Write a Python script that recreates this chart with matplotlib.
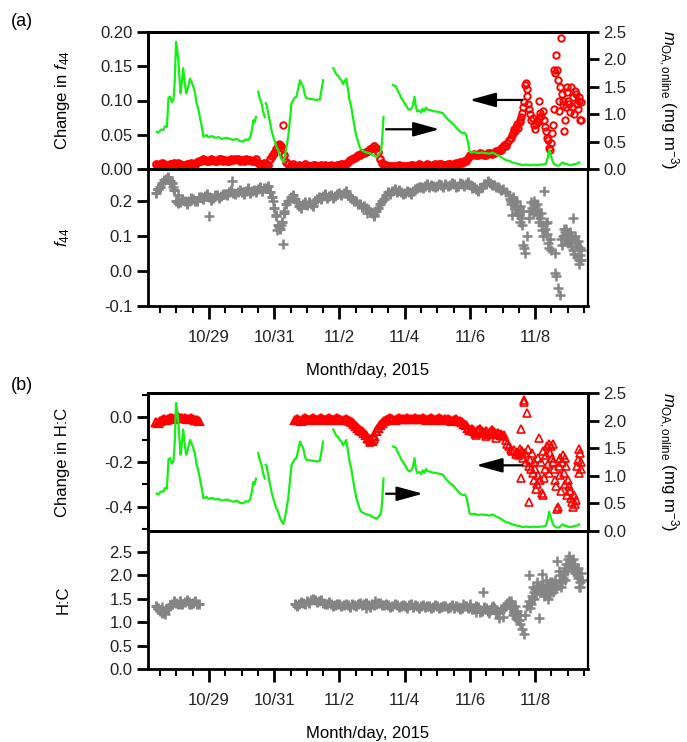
import numpy as np
import matplotlib
matplotlib.use('Agg')
import matplotlib.pyplot as plt
from matplotlib.ticker import FixedLocator, MultipleLocator, FormatStrFormatter

plt.rcParams['font.family'] = ['Liberation Sans', 'DejaVu Sans']
plt.rcParams['mathtext.fontset'] = 'custom'
plt.rcParams['mathtext.rm'] = 'Liberation Sans'
plt.rcParams['mathtext.it'] = 'Liberation Sans:italic'
plt.rcParams['mathtext.bf'] = 'Liberation Sans:bold'
plt.rcParams['axes.unicode_minus'] = False

# ---------------- DATA (time = day of October 2015, Nov 1 = 32) ----------------
tick_days = [29, 31, 33, 35, 37, 39]
tick_labels = ['10/29', '10/31', '11/2', '11/4', '11/6', '11/8']

# OA mass loading online (green line, right axes), NaN = gap
moa_t = [27.40, 27.45, 27.50, 27.55, 27.60, 27.65, 27.71, 27.76, 27.81, 27.86, 27.91, 27.95, 27.99, 28.02,
         28.06, 28.10, 28.13, 28.17, 28.21, 28.25, 28.30, 28.34, 28.38, 28.42, 28.47, 28.52, 28.57, 28.62,
         28.67, 28.72, 28.77, 28.83, 28.88, 28.93, 28.98, 29.03, 29.10, 29.20, 29.30, 29.40, 29.54, 29.65,
         29.75, 29.85, 29.95, 30.05, 30.12, 30.20, 30.26, 30.31, 30.36, 30.40, 30.44, 30.47,
         30.51, 30.55, 30.61, 30.66, 30.71, 30.73,
         30.74, 30.77, 30.82, 30.87, 30.92, 30.97, 31.02, 31.07, 31.12, 31.17, 31.22, 31.28, 31.33, 31.38,
         31.43, 31.48, 31.53, 31.58, 31.63, 31.68, 31.73, 31.79, 31.84, 31.89, 31.94, 31.99, 32.10, 32.20,
         32.30, 32.40, 32.45, 32.50, 32.65,
         32.81, 32.86, 32.91, 32.96, 33.01, 33.06, 33.11, 33.16, 33.21, 33.26, 33.31, 33.36, 33.41, 33.46,
         33.52, 33.57, 33.62, 33.67, 33.75, 33.83, 33.92, 34.00, 34.07, 34.13, 34.20, 34.25, 34.28, 34.31,
         34.35, 34.50,
         34.64, 34.69, 34.74, 34.79, 34.84, 34.89, 34.94, 35.00, 35.05, 35.10, 35.15, 35.20, 35.25, 35.30,
         35.34, 35.38, 35.45, 35.50, 35.55, 35.60, 35.65, 35.70, 35.76, 35.85, 35.95, 36.05, 36.17, 36.25,
         36.33, 36.40, 36.48, 36.55, 36.62, 36.70, 36.78, 36.84, 36.89, 36.95, 36.99, 37.05, 37.15, 37.25,
         37.35, 37.50, 37.60, 37.70, 37.81, 37.90, 38.00, 38.11, 38.20, 38.30, 38.42, 38.52, 38.62, 38.72,
         38.83, 38.95, 39.05, 39.15, 39.25, 39.33, 39.38, 39.43, 39.48, 39.53, 39.58, 39.64, 39.70, 39.75,
         39.80, 39.85, 39.90, 39.94, 40.00, 40.10, 40.20, 40.30, 40.35]
moa_v = [0.68, 0.66, 0.70, 0.72, 0.71, 0.78, 0.77, 1.30, 1.32, 1.22, 1.26, 1.60, 2.32, 2.20,
         1.99, 1.62, 1.38, 1.60, 1.84, 1.60, 1.38, 1.45, 1.55, 1.65, 1.58, 1.50, 1.40, 1.20,
         1.10, 0.95, 0.80, 0.59, 0.60, 0.62, 0.58, 0.59, 0.60, 0.57, 0.58, 0.55, 0.57, 0.55,
         0.53, 0.55, 0.51, 0.50, 0.54, 0.53, 0.57, 0.70, 0.89, 0.85, 0.95, np.nan,
         1.41, 1.30, 1.20, 1.05, 0.95, np.nan,
         1.20, 1.17, 1.00, 0.85, 0.70, 0.59, 0.50, 0.40, 0.35, 0.25, 0.18, 0.13, 0.25, 0.42,
         0.59, 0.90, 1.20, 1.25, 1.30, 1.32, 1.45, 1.62, 1.55, 1.50, 1.35, 1.29, 1.28, 1.27,
         1.26, 1.27, 1.45, 1.62, np.nan,
         1.84, 1.78, 1.72, 1.70, 1.65, 1.62, 1.55, 1.60, 1.65, 1.45, 1.25, 1.14, 0.95, 0.78,
         0.59, 0.50, 0.40, 0.35, 0.32, 0.30, 0.29, 0.26, 0.24, 0.22, 0.26, 0.30, 0.35, 0.55,
         0.95, np.nan,
         1.53, 1.52, 1.50, 1.42, 1.37, 1.30, 1.26, 1.20, 1.15, 1.10, 1.08, 1.10, 1.15, 1.32,
         1.15, 1.05, 1.07, 1.03, 1.10, 1.05, 1.12, 1.08, 1.08, 1.06, 1.05, 1.04, 1.02, 0.95,
         0.90, 0.86, 0.83, 0.78, 0.73, 0.68, 0.65, 0.66, 0.62, 0.45, 0.32, 0.30, 0.31, 0.29,
         0.30, 0.29, 0.28, 0.30, 0.26, 0.24, 0.20, 0.16, 0.15, 0.12, 0.10, 0.09, 0.07, 0.08,
         0.07, 0.08, 0.07, 0.08, 0.08, 0.10, 0.20, 0.35, 0.25, 0.15, 0.09, 0.07, 0.06, 0.07,
         0.10, 0.12, 0.09, 0.10, 0.08, 0.07, 0.09, 0.10, 0.12]

# 3-hourly sample times of the continuous records, plus the in-between samples
grid_t = np.arange(27.375, 37.876, 0.125)          # 85 samples
grid_tm = grid_t + 0.0625
hc1_t = np.arange(27.375, 28.626, 0.125)           # 11 samples
hc1_tm = hc1_t + 0.0625
hc2_t = np.arange(31.625, 37.876, 0.125)           # 51 samples
hc2_tm = hc2_t + 0.0625

# Change in f44 (red circles), regular part
df44_v = [0.008, 0.007, 0.008, 0.006, 0.007,
          0.007, 0.008, 0.006, 0.007, 0.008, 0.010, 0.012, 0.013,
          0.012, 0.013, 0.012, 0.014, 0.013, 0.012, 0.013, 0.014,
          0.013, 0.014, 0.013, 0.012, 0.009, 0.007, 0.008, 0.015,
          0.024, 0.033, 0.030, 0.010, 0.005, 0.005, 0.006, 0.005,
          0.005, 0.004, 0.006, 0.005, 0.004, 0.005, 0.006, 0.005,
          0.006, 0.007, 0.010, 0.015, 0.018, 0.021, 0.024, 0.026,
          0.031, 0.030, 0.015, 0.005, 0.004, 0.005, 0.005, 0.004,
          0.005, 0.005, 0.006, 0.005, 0.006, 0.005, 0.006, 0.006,
          0.006, 0.007, 0.006, 0.007, 0.008, 0.008, 0.009, 0.011,
          0.020, 0.022, 0.021, 0.022, 0.021, 0.023, 0.024, 0.027]
df44_vm = [0.006, 0.009, 0.006, 0.008, 0.009,
           0.009, 0.006, 0.008, 0.009, 0.006, 0.012, 0.014, 0.011,
           0.014, 0.011, 0.015, 0.012, 0.011, 0.014, 0.015, 0.012,
           0.012, 0.013, 0.011, 0.014, 0.008, 0.009, 0.006, 0.019,
           0.029, 0.035, 0.020, 0.007, 0.007, 0.004, 0.005, 0.007,
           0.004, 0.006, 0.004, 0.006, 0.006, 0.004, 0.005, 0.006,
           0.008, 0.008, 0.013, 0.016, 0.020, 0.023, 0.025, 0.029,
           0.033, 0.025, 0.009, 0.006, 0.005, 0.004, 0.006, 0.005,
           0.004, 0.006, 0.005, 0.007, 0.005, 0.007, 0.005, 0.007,
           0.007, 0.005, 0.008, 0.006, 0.009, 0.010, 0.012, 0.016,
           0.021, 0.020, 0.023, 0.020, 0.024, 0.022, 0.026, 0.028]
# Change in f44, scattered part
df44s_t = [31.15, 31.20, 31.28, 37.95, 38.00, 38.05, 38.10, 38.15, 38.20, 38.25, 38.28, 38.31, 38.35,
           38.38, 38.41, 38.45, 38.48, 38.52, 38.55, 38.57, 38.60, 38.63, 38.66, 38.70, 38.72, 38.74,
           38.76, 38.79, 38.82, 38.85, 38.88, 38.92, 38.95, 38.98, 39.02, 39.05, 39.08, 39.11, 39.13,
           39.16, 39.19, 39.23, 39.26, 39.30, 39.33, 39.36, 39.38, 39.41, 39.45, 39.49, 39.52, 39.54,
           39.57, 39.59, 39.61, 39.64, 39.67, 39.70, 39.72, 39.74, 39.77, 39.79, 39.81, 39.84, 39.86,
           39.89, 39.91, 39.94, 39.97, 39.99, 40.02, 40.05, 40.08, 40.11, 40.14, 40.17, 40.20, 40.23,
           40.25, 40.28, 40.30, 40.33, 40.35, 40.38, 40.40, 40.42]
df44s_v = [0.036, 0.034, 0.064, 0.030, 0.032, 0.035, 0.033, 0.038, 0.042, 0.045, 0.050, 0.052, 0.058,
           0.055, 0.061, 0.066, 0.060, 0.072, 0.068, 0.076, 0.082, 0.090, 0.098, 0.122, 0.125, 0.117,
           0.107, 0.095, 0.088, 0.080, 0.072, 0.074, 0.064, 0.058, 0.066, 0.070, 0.069, 0.075, 0.100,
           0.082, 0.078, 0.084, 0.072, 0.061, 0.055, 0.045, 0.042, 0.030, 0.028, 0.038, 0.052, 0.064,
           0.088, 0.145, 0.140, 0.166, 0.145, 0.130, 0.100, 0.085, 0.120, 0.191, 0.110, 0.100, 0.094,
           0.055, 0.072, 0.090, 0.112, 0.120, 0.100, 0.095, 0.083, 0.120, 0.090, 0.105, 0.080, 0.114,
           0.110, 0.095, 0.088, 0.100, 0.105, 0.072, 0.071, 0.098]

# f44 (grey crosses), regular part
f44_v = [0.222, 0.240, 0.258, 0.268, 0.250,
         0.200, 0.195, 0.198, 0.200, 0.205, 0.200, 0.210, 0.212,
         0.210, 0.208, 0.215, 0.212, 0.220, 0.225, 0.222, 0.225,
         0.225, 0.228, 0.222, 0.230, 0.232, 0.228, 0.235, 0.225,
         0.180, 0.130, 0.140, 0.190, 0.210, 0.205, 0.185, 0.190,
         0.188, 0.190, 0.200, 0.210, 0.212, 0.208, 0.215, 0.212,
         0.222, 0.222, 0.215, 0.205, 0.198, 0.190, 0.184, 0.175,
         0.165, 0.170, 0.190, 0.205, 0.225, 0.228, 0.224, 0.225,
         0.222, 0.225, 0.228, 0.235, 0.240, 0.242, 0.240, 0.243,
         0.242, 0.245, 0.248, 0.245, 0.247, 0.243, 0.248, 0.246,
         0.245, 0.238, 0.228, 0.240, 0.248, 0.250, 0.245, 0.240]
f44_vm = [0.232, 0.250, 0.262, 0.255, 0.230,
          0.192, 0.205, 0.190, 0.208, 0.198, 0.210, 0.205, 0.218,
          0.202, 0.215, 0.208, 0.220, 0.215, 0.230, 0.218, 0.230,
          0.220, 0.235, 0.228, 0.225, 0.238, 0.235, 0.242, 0.210,
          0.160, 0.118, 0.165, 0.200, 0.215, 0.195, 0.180, 0.195,
          0.195, 0.185, 0.205, 0.205, 0.218, 0.214, 0.208, 0.220,
          0.215, 0.228, 0.210, 0.200, 0.190, 0.182, 0.178, 0.168,
          0.160, 0.180, 0.198, 0.215, 0.220, 0.232, 0.230, 0.220,
          0.228, 0.220, 0.232, 0.240, 0.235, 0.248, 0.245, 0.238,
          0.248, 0.240, 0.242, 0.250, 0.240, 0.250, 0.242, 0.252,
          0.235, 0.232, 0.235, 0.246, 0.255, 0.244, 0.238, 0.230]
# f44, scattered part
f44s_t = [27.45, 27.90, 28.05, 29.00, 29.70, 30.95, 31.05, 31.10, 31.15, 31.20, 31.27, 31.30, 33.85, 34.05,
          37.90, 38.00, 38.10, 38.20, 38.25, 38.30, 38.32, 38.35, 38.40, 38.45, 38.50, 38.55, 38.60, 38.63,
          38.67, 38.70, 38.75, 38.80, 38.85, 38.90, 38.95, 39.00, 39.05, 39.10, 39.15, 39.20, 39.25, 39.28,
          39.30, 39.35, 39.40, 39.43, 39.50, 39.60, 39.62, 39.65, 39.69, 39.75, 39.80, 39.85, 39.90, 39.95,
          40.00, 40.05, 40.10, 40.15, 40.20, 40.25, 40.30, 40.33, 40.35, 40.38, 40.42,
          38.22, 38.27, 38.33, 38.37, 38.42, 38.47, 38.52, 38.57, 38.62, 38.88, 38.92, 38.97, 39.02, 39.07,
          39.12, 39.17, 39.22, 39.32, 39.37, 39.45, 39.82, 39.87, 39.92, 39.97, 40.02, 40.07, 40.12, 40.17,
          40.22, 40.27, 40.32, 40.37, 40.40]
f44s_v = [0.232, 0.240, 0.215, 0.157, 0.255, 0.200, 0.155, 0.115, 0.125, 0.130, 0.077, 0.170, 0.165, 0.155,
          0.235, 0.232, 0.225, 0.215, 0.200, 0.158, 0.205, 0.195, 0.185, 0.180, 0.160, 0.140, 0.130, 0.075,
          0.065, 0.050, 0.100, 0.150, 0.170, 0.180, 0.190, 0.185, 0.175, 0.160, 0.150, 0.130, 0.100, 0.227,
          0.120, 0.140, 0.080, 0.065, 0.060, 0.050, -0.005, -0.015, -0.050, -0.070, 0.090, 0.100, 0.110, 0.118,
          0.100, 0.085, 0.070, 0.150, 0.048, 0.080, 0.067, 0.030, 0.020, 0.045, 0.060,
          0.205, 0.190, 0.210, 0.175, 0.200, 0.165, 0.185, 0.150, 0.170, 0.195, 0.165, 0.200, 0.170, 0.190,
          0.140, 0.165, 0.115, 0.135, 0.105, 0.090, 0.075, 0.120, 0.090, 0.105, 0.080, 0.110, 0.095, 0.060,
          0.100, 0.040, 0.085, 0.065, 0.030]

# Change in H:C (red triangles), regular parts
dhc1_v = [-0.020, -0.015, -0.008, -0.005, -0.003, -0.002, -0.004, -0.003, -0.005, -0.006, -0.010]
dhc1_vm = [-0.025, -0.010, -0.012, -0.001, -0.006, 0.001, -0.001, -0.007, -0.002, -0.012, -0.015]
dhc2_v = [-0.012, -0.010, -0.008,
          -0.008, -0.007, -0.008, -0.006, -0.007, -0.008, -0.006, -0.007,
          -0.008, -0.010, -0.012, -0.020, -0.040, -0.055, -0.070, -0.090,
          -0.105, -0.060, -0.035, -0.015, -0.008, -0.005, -0.006, -0.005,
          -0.006, -0.005, -0.006, -0.005, -0.006, -0.007, -0.006, -0.007,
          -0.007, -0.008, -0.008, -0.010, -0.012, -0.015, -0.020, -0.035,
          -0.055, -0.060, -0.058, -0.062, -0.060, -0.065, -0.063, -0.070]
dhc2_vm = [-0.006, -0.014, -0.004,
           -0.012, -0.003, -0.011, -0.004, -0.010, -0.004, -0.011, -0.003,
           -0.012, -0.006, -0.016, -0.030, -0.048, -0.062, -0.080, -0.098,
           -0.085, -0.045, -0.025, -0.010, -0.004, -0.010, -0.003, -0.009,
           -0.003, -0.009, -0.003, -0.009, -0.004, -0.010, -0.003, -0.011,
           -0.004, -0.011, -0.005, -0.014, -0.008, -0.018, -0.028, -0.045,
           -0.050, -0.068, -0.052, -0.070, -0.075, -0.058, -0.072, -0.080]
# Change in H:C, scattered part
dhcs_t = [33.95, 34.05, 37.20, 37.50, 37.80, 37.95, 38.00, 38.05, 38.10, 38.15, 38.20, 38.25, 38.30, 38.35,
          38.40, 38.45, 38.50, 38.52, 38.55, 38.57, 38.58, 38.60, 38.62, 38.65, 38.67, 38.70, 38.72, 38.75,
          38.77, 38.80, 38.82, 38.84, 38.87, 38.90, 38.92, 38.95, 38.97, 39.00, 39.03, 39.05, 39.08, 39.10,
          39.13, 39.15, 39.18, 39.20, 39.23, 39.25, 39.28, 39.30, 39.33, 39.36, 39.38, 39.41, 39.43, 39.46,
          39.49, 39.51, 39.54, 39.56, 39.59, 39.62, 39.65, 39.67, 39.69, 39.72, 39.75, 39.77, 39.80, 39.82,
          39.85, 39.87, 39.90, 39.92, 39.95, 39.98, 40.00, 40.03, 40.06, 40.09, 40.12, 40.15, 40.18, 40.21,
          40.24, 40.27, 40.30, 40.33, 40.35, 40.38, 40.40, 40.42]
dhcs_v = [-0.110, -0.095, -0.080, -0.085, -0.090, -0.075, -0.085, -0.080, -0.100, -0.120, -0.130, -0.140,
          -0.150, -0.145, -0.165, -0.155, -0.170, -0.140, -0.160, -0.270, -0.050, -0.150, -0.180, 0.080,
          0.070, -0.160, -0.200, 0.020, -0.140, -0.220, -0.380, -0.190, -0.230, -0.160, -0.250, -0.200,
          -0.280, -0.230, -0.320, -0.300, -0.180, -0.260, -0.090, -0.280, -0.200, -0.340, -0.350, -0.150,
          -0.270, -0.230, -0.170, -0.130, -0.210, -0.120, -0.250, -0.160, -0.130, -0.180, -0.120, -0.200,
          -0.230, -0.280, -0.310, -0.410, -0.400, -0.220, -0.180, -0.260, -0.330, -0.200, -0.170, -0.250,
          -0.180, -0.300, -0.220, -0.350, -0.280, -0.310, -0.330, -0.360, -0.380, -0.400, -0.350, -0.390,
          -0.370, -0.220, -0.190, -0.250, -0.140, -0.160, -0.230, -0.200]

# H:C (grey crosses), regular parts
hc1_v = [1.35, 1.25, 1.22, 1.30, 1.40, 1.42, 1.45, 1.43, 1.44, 1.42, 1.40]
hc1_vm = [1.30, 1.20, 1.28, 1.36, 1.45, 1.38, 1.40, 1.47, 1.40, 1.45, 1.38]
hc2_v = [1.38, 1.40, 1.42,
         1.45, 1.47, 1.48, 1.45, 1.42, 1.40, 1.38, 1.37,
         1.38, 1.36, 1.37, 1.40, 1.35, 1.42, 1.38, 1.36,
         1.40, 1.38, 1.42, 1.36, 1.37, 1.35, 1.36, 1.34,
         1.35, 1.36, 1.33, 1.35, 1.34, 1.32, 1.34, 1.33,
         1.35, 1.32, 1.34, 1.33, 1.31, 1.33, 1.30, 1.34,
         1.32, 1.28, 1.33, 1.25, 1.30, 1.27, 1.31, 1.22]
hc2_vm = [1.34, 1.44, 1.40,
          1.42, 1.50, 1.44, 1.48, 1.38, 1.43, 1.35, 1.40,
          1.34, 1.40, 1.33, 1.36, 1.40, 1.36, 1.42, 1.33,
          1.36, 1.42, 1.37, 1.40, 1.33, 1.38, 1.32, 1.37,
          1.31, 1.38, 1.36, 1.31, 1.37, 1.35, 1.30, 1.36,
          1.31, 1.35, 1.30, 1.36, 1.34, 1.29, 1.35, 1.30,
          1.28, 1.34, 1.22, 1.32, 1.24, 1.33, 1.20, 1.28]
# H:C, scattered part
hcs_t = [27.45, 27.55, 27.65, 27.80, 28.10, 28.40, 33.80, 34.10, 36.80, 37.00, 37.20, 37.40, 37.60, 37.70,
         37.90, 38.00, 38.05, 38.10, 38.15, 38.20, 38.25, 38.30, 38.35, 38.40, 38.45, 38.50, 38.55, 38.60,
         38.65, 38.70, 38.75, 38.80, 38.82, 38.85, 38.90, 38.95, 39.00, 39.05, 39.10, 39.12, 39.15, 39.20,
         39.25, 39.30, 39.35, 39.40, 39.45, 39.50, 39.55, 39.60, 39.65, 39.68, 39.72, 39.75, 39.80, 39.85,
         39.90, 39.95, 40.00, 40.05, 40.10, 40.15, 40.20, 40.25, 40.30, 40.33, 40.36, 40.40, 40.43,
         38.22, 38.27, 38.32, 38.37, 38.42, 38.47, 38.52, 38.88, 38.92, 38.97, 39.02, 39.07, 39.17, 39.22,
         39.27, 39.32, 39.37, 39.42, 39.47, 39.52, 39.57, 39.62, 39.77, 39.82, 39.87, 39.92, 39.97, 40.02,
         40.07, 40.12, 40.17, 40.22, 40.27, 40.32, 40.38]
hcs_v = [1.28, 1.32, 1.18, 1.35, 1.38, 1.40, 1.30, 1.45, 1.40, 1.38, 1.22, 1.65, 1.20, 1.35,
         1.10, 1.12, 1.30, 1.35, 1.42, 1.45, 1.38, 1.30, 1.20, 1.10, 1.25, 1.05, 0.96, 0.85,
         0.75, 1.15, 1.35, 2.00, 1.45, 1.30, 1.55, 1.65, 1.70, 1.85, 1.75, 1.10, 1.65, 2.04,
         1.80, 1.60, 1.75, 1.50, 1.85, 1.70, 1.65, 1.90, 1.80, 2.30, 2.10, 1.85, 1.75, 1.95,
         2.15, 2.25, 2.35, 2.42, 2.30, 2.20, 2.25, 2.10, 1.95, 1.76, 1.85, 2.05, 1.90,
         1.30, 1.45, 1.15, 1.35, 1.20, 1.05, 1.15, 1.40, 1.75, 1.50, 1.60, 1.72, 1.80, 1.70,
         1.55, 1.90, 1.62, 1.75, 1.60, 1.85, 1.75, 1.70, 2.00, 1.85, 2.05, 1.90, 2.10, 2.20,
         2.25, 2.15, 2.35, 2.05, 2.00, 2.15, 1.75]

# ---------------- STYLE ----------------
RED = '#ff0000'
GREEN = '#14f014'
GREY = '#858585'
TXT = '#222222'
FS = 12
XLIM = (27.13, 40.62)

fig = plt.figure(figsize=(6.87, 7.42), dpi=100)
L, W = 148 / 687, 440 / 687


def box(top_px, bot_px):
    return [L, 1 - bot_px / 742, W, (bot_px - top_px) / 742]


axA1 = fig.add_axes(box(32, 169))
axA2 = fig.add_axes(box(169, 306))
axB1 = fig.add_axes(box(393, 531))
axB2 = fig.add_axes(box(531, 669))


def base_style(ax, lw=2.0):
    ax.set_xlim(*XLIM)
    for s in ax.spines.values():
        s.set_linewidth(lw)
    ax.tick_params(axis='y', which='major', direction='out', length=8, width=2.0,
                   labelsize=FS, labelcolor=TXT, pad=3)
    ax.tick_params(axis='y', which='minor', direction='out', length=4, width=1.5)
    ax.tick_params(axis='x', which='both', top=False)


def top_style(ax):
    base_style(ax)
    ax.tick_params(axis='x', which='both', bottom=False, labelbottom=False)


def bottom_style(ax):
    base_style(ax)
    ax.spines['right'].set_linewidth(1.6)
    ax.xaxis.set_major_locator(FixedLocator(tick_days))
    ax.set_xticklabels(tick_labels)
    ax.xaxis.set_minor_locator(MultipleLocator(0.5))
    ax.tick_params(axis='x', which='major', direction='out', length=9, width=2.0,
                   labelsize=FS, labelcolor=TXT, pad=8)
    ax.tick_params(axis='x', which='minor', direction='out', length=5, width=1.5)
    ax.set_xlabel('Month/day, 2015', fontsize=FS, labelpad=13)


def right_axis(ax):
    axr = ax.twinx()
    axr.set_xlim(*XLIM)
    axr.set_ylim(0, 2.5)
    axr.yaxis.set_major_locator(MultipleLocator(0.5))
    axr.yaxis.set_major_formatter(FormatStrFormatter('%.1f'))
    for s in axr.spines.values():
        s.set_linewidth(2.0)
    axr.tick_params(axis='y', direction='out', length=8, width=2.0, labelsize=FS,
                    labelcolor=TXT, pad=3)
    axr.plot(moa_t, moa_v, color=GREEN, lw=1.6)
    return axr


circ = dict(ls='none', marker='o', ms=4.6, mfc='none', mec=RED, mew=1.7)
tri = dict(ls='none', marker='^', ms=5.5, mfc='none', mec=RED, mew=1.6)
cross = dict(ls='none', marker='+', ms=6.5, mec=GREY, mew=2.1)

# ---- panel (a) top ----
top_style(axA1)
axA1.plot(grid_t, df44_v, **circ)
axA1.plot(grid_tm, df44_vm, **circ)
axA1.plot(df44s_t, df44s_v, **dict(circ, mew=1.4))
axA1.set_ylim(0, 0.2)
axA1.yaxis.set_major_locator(MultipleLocator(0.05))
axA1.yaxis.set_major_formatter(FormatStrFormatter('%.2f'))
axA1r = right_axis(axA1)
arw = dict(arrowstyle='-|>,head_length=0.8,head_width=0.22', color='black', lw=1.6,
           mutation_scale=20, shrinkA=0, shrinkB=0)
axA1r.annotate('', xy=(36.99, 1.26), xytext=(38.60, 1.26), arrowprops=arw)
axA1r.annotate('', xy=(36.07, 0.725), xytext=(34.43, 0.725), arrowprops=arw)

# ---- panel (a) bottom ----
bottom_style(axA2)
axA2.plot(grid_t, f44_v, **cross)
axA2.plot(grid_tm, f44_vm, **cross)
axA2.plot(f44s_t, f44s_v, **dict(cross, mew=1.8))
axA2.set_ylim(-0.1, 0.29)
axA2.yaxis.set_major_locator(FixedLocator([-0.1, 0.0, 0.1, 0.2]))
axA2.yaxis.set_major_formatter(FormatStrFormatter('%.1f'))

# ---- panel (b) top ----
top_style(axB1)
axB1.plot(hc1_t, dhc1_v, **tri)
axB1.plot(hc1_tm, dhc1_vm, **tri)
axB1.plot(hc2_t, dhc2_v, **tri)
axB1.plot(hc2_tm, dhc2_vm, **tri)
axB1.plot(dhcs_t, dhcs_v, **dict(tri, mew=1.2))
axB1.set_ylim(-0.51, 0.11)
axB1.yaxis.set_major_locator(FixedLocator([-0.4, -0.2, 0.0]))
axB1.yaxis.set_minor_locator(FixedLocator([-0.5, -0.3, -0.1, 0.1]))
axB1.yaxis.set_major_formatter(FormatStrFormatter('%.1f'))
axB1r = right_axis(axB1)
axB1r.annotate('', xy=(37.19, 1.19), xytext=(38.60, 1.19), arrowprops=arw)
axB1r.annotate('', xy=(35.56, 0.675), xytext=(34.43, 0.675), arrowprops=arw)

# ---- panel (b) bottom ----
bottom_style(axB2)
axB2.plot(hc1_t, hc1_v, **cross)
axB2.plot(hc1_tm, hc1_vm, **cross)
axB2.plot(hc2_t, hc2_v, **cross)
axB2.plot(hc2_tm, hc2_vm, **cross)
axB2.plot(hcs_t, hcs_v, **dict(cross, mew=1.8))
axB2.set_ylim(0, 2.95)
axB2.yaxis.set_major_locator(FixedLocator([0, 0.5, 1.0, 1.5, 2.0, 2.5]))
axB2.yaxis.set_major_formatter(FormatStrFormatter('%.1f'))

# ---- labels ----
def fx(px):
    return px / 687


def fyy(py):
    return 1 - py / 742


fig.text(fx(63), fyy(100), 'Change in $f_{44}$', rotation=90, ha='center', va='center', fontsize=FS)
fig.text(fx(63), fyy(237), '$f_{44}$', rotation=90, ha='center', va='center', fontsize=FS)
fig.text(fx(63), fyy(462), 'Change in H:C', rotation=90, ha='center', va='center', fontsize=FS)
fig.text(fx(63), fyy(600), 'H:C', rotation=90, ha='center', va='center', fontsize=FS)
rlab = r'$m_{\mathrm{OA,online}}$ (mg m$^{-3}$)'
fig.text(fx(668), fyy(100), rlab, rotation=270, ha='center', va='center', fontsize=FS)
fig.text(fx(668), fyy(462), rlab, rotation=270, ha='center', va='center', fontsize=FS)
fig.text(fx(22), fyy(22), '(a)', ha='center', va='center', fontsize=13)
fig.text(fx(22), fyy(385), '(b)', ha='center', va='center', fontsize=13)

fig.savefig('out.png', dpi=100)
